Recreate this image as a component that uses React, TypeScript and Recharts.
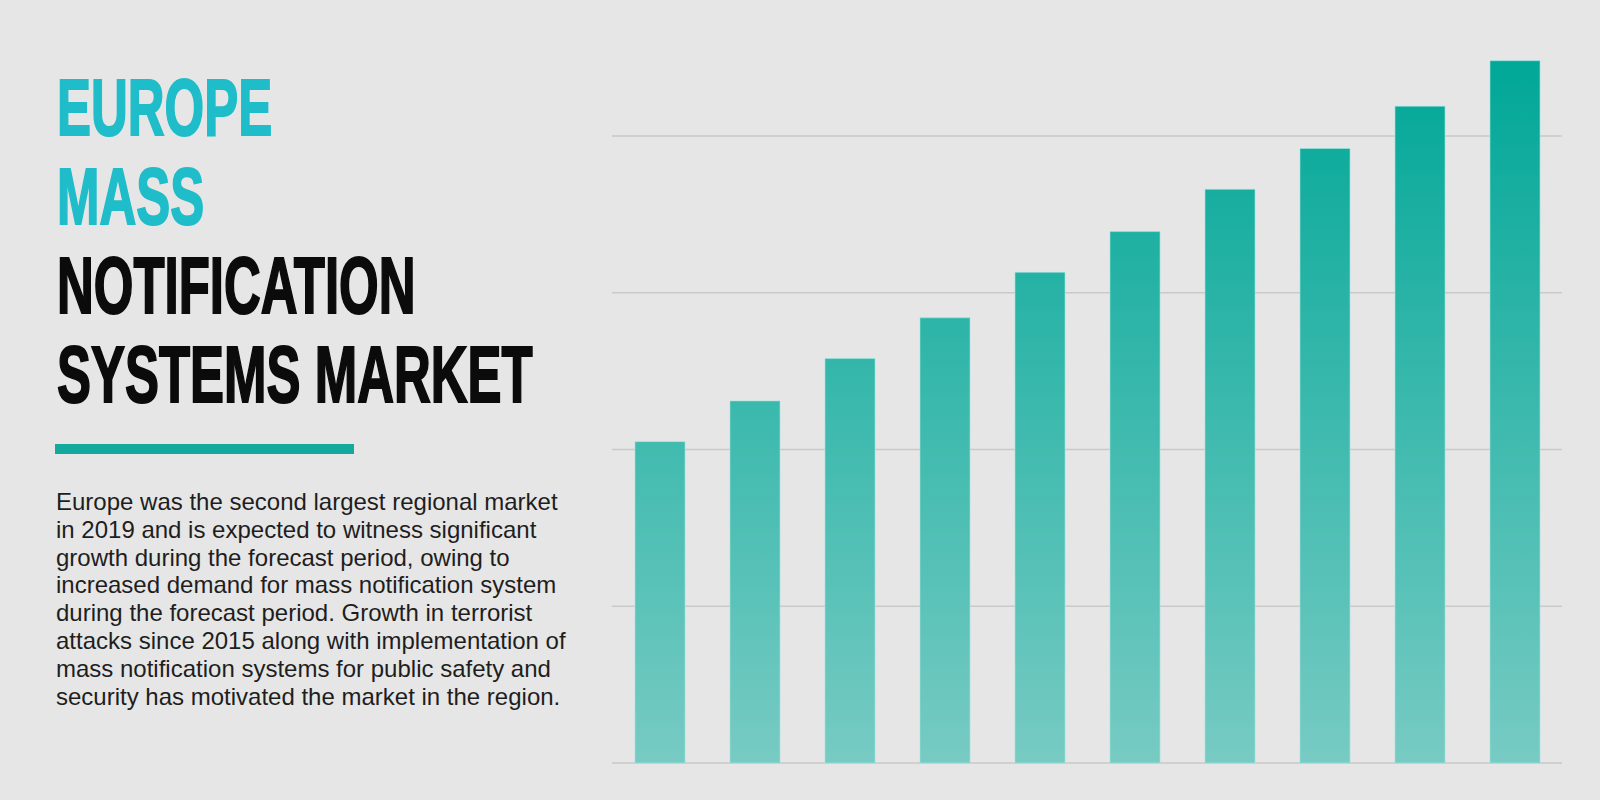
import { BarChart, Bar, XAxis, YAxis, CartesianGrid } from "recharts";

const years = ["2017", "2018", "2019", "2020", "2021", "2022", "2023", "2024", "2025", "2026"];
const marketSize = [205, 231, 258, 284, 313, 339, 366, 392, 419, 448];
const yTicks = [0, 100, 200, 300, 400];

const titleCyan = ["EUROPE", "MASS"];
const titleDark = ["NOTIFICATION", "SYSTEMS MARKET"];

const paragraph = [
  "Europe was the second largest regional market",
  "in 2019 and is expected to witness significant",
  "growth during the forecast period, owing to",
  "increased demand for mass notification system",
  "during the forecast period. Growth in terrorist",
  "attacks since 2015 along with implementation of",
  "mass notification systems for public safety and",
  "security has motivated the market in the region.",
];

const data = years.map((year, i) => ({ year, value: marketSize[i] }));

function TitleLine({ text, color }: { text: string; color: string }) {
  return (
    <div style={{ height: 89, lineHeight: "89px", whiteSpace: "nowrap" }}>
      <span
        style={{
          display: "inline-block",
          transform: "scaleX(0.637)",
          transformOrigin: "left center",
          color,
          WebkitTextStroke: `2px ${color}`,
        }}
      >
        {text}
      </span>
    </div>
  );
}

export default function App() {
  return (
    <div
      style={{
        position: "fixed",
        left: 0,
        top: 0,
        width: 1600,
        height: 800,
        background: "#e6e6e6",
        overflow: "hidden",
      }}
    >
      {/* headline */}
      <div
        style={{
          position: "absolute",
          left: 57,
          top: 63,
          fontFamily: "'Liberation Sans', Arial, sans-serif",
          fontWeight: 700,
          fontSize: 80,
        }}
      >
        {titleCyan.map((t) => (
          <TitleLine key={t} text={t} color="#1fbdca" />
        ))}
        {titleDark.map((t) => (
          <TitleLine key={t} text={t} color="#0b0b0b" />
        ))}
      </div>

      <div
        style={{
          position: "absolute",
          left: 55,
          top: 444,
          width: 299,
          height: 10,
          background: "#13aa9d",
        }}
      />

      <div
        style={{
          position: "absolute",
          left: 56,
          top: 488,
          fontFamily: "'Liberation Sans', Arial, sans-serif",
          fontSize: 24,
          lineHeight: "27.8px",
          color: "#1e1e1e",
        }}
      >
        {paragraph.map((line) => (
          <div key={line} style={{ whiteSpace: "nowrap" }}>
            {line}
          </div>
        ))}
      </div>

      <div style={{ position: "absolute", left: 560, top: 0 }}>
        <BarChart
          width={1040}
          height={800}
          data={data}
          margin={{ top: 57.6, right: 38, bottom: 37, left: 52 }}
        >
          <defs>
            <linearGradient
              id="tealFade"
              gradientUnits="userSpaceOnUse"
              x1="0"
              y1="57"
              x2="0"
              y2="763"
            >
              <stop offset="0%" stopColor="#00a797" />
              <stop offset="100%" stopColor="#77cbc3" />
            </linearGradient>
          </defs>
          <CartesianGrid
            vertical={false}
            horizontalValues={yTicks}
            stroke="#c9c9c9"
            strokeWidth={1.5}
          />
          <XAxis dataKey="year" hide />
          <YAxis
            domain={[0, 450]}
            ticks={yTicks}
            width={0}
            tick={{ fill: "transparent" }}
            axisLine={false}
            tickLine={false}
          />
          <Bar
            dataKey="value"
            barSize={50}
            fill="url(#tealFade)"
            stroke="#9fe6df"
            strokeWidth={1}
            strokeOpacity={0.6}
            isAnimationActive={false}
          />
        </BarChart>
      </div>
    </div>
  );
}
